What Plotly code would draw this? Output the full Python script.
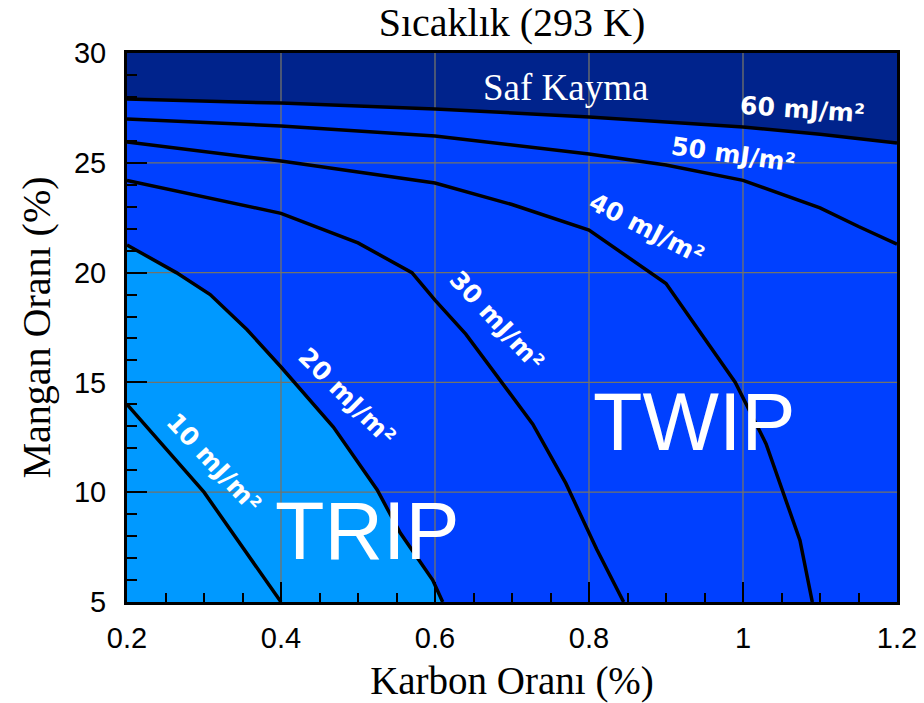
import plotly.graph_objects as go

# ---- data ----
x_range = [0.2, 1.2]
y_range = [5, 30]

x_tickvals = [0.2, 0.4, 0.6, 0.8, 1.0, 1.2]
x_ticktext = ["0.2", "0.4", "0.6", "0.8", "1", "1.2"]
y_tickvals = [5, 10, 15, 20, 25, 30]
y_ticktext = ["5", "10", "15", "20", "25", "30"]
x_grid = [0.4, 0.6, 0.8, 1.0]
y_grid = [10, 15, 20, 25]

c60_x = [0.2, 0.4, 0.6, 0.8, 1.0, 1.1, 1.2]
c60_y = [27.9, 27.72, 27.45, 27.09, 26.63, 26.3, 25.9]

c50_x = [0.2, 0.4, 0.6, 0.8, 0.9, 1.0, 1.1, 1.15, 1.2]
c50_y = [27.0, 26.68, 26.22, 25.4, 24.9, 24.2, 22.95, 22.1, 21.3]

c40_x = [0.2, 0.4, 0.6, 0.7, 0.8, 0.9, 0.99, 1.03, 1.074, 1.09]
c40_y = [25.95, 25.08, 24.08, 23.1, 21.94, 19.5, 15.0, 12.2, 7.8, 5.0]

c30_x = [0.2, 0.3, 0.4, 0.5, 0.57, 0.6, 0.64, 0.727, 0.77, 0.81, 0.845]
c30_y = [24.2, 23.45, 22.7, 21.35, 20.0, 18.75, 17.2, 13.1, 10.4, 7.4, 5.0]

c20_x = [0.2, 0.264, 0.308, 0.356, 0.4, 0.468, 0.525, 0.555, 0.597, 0.61]
c20_y = [21.26, 20.0, 19.0, 17.4, 15.7, 12.97, 10.1, 8.14, 6.0, 5.0]

c10_x = [0.2, 0.3, 0.4]
c10_y = [14.0, 10.0, 5.0]

contour_names = ["10 mJ/m²", "20 mJ/m²", "30 mJ/m²", "40 mJ/m²", "50 mJ/m²", "60 mJ/m²"]
label_x = [0.312, 0.486, 0.680, 0.875, 0.988, 1.077]
label_y = [11.33, 14.38, 17.8, 21.99, 25.4, 27.45]
label_angle = [47, 45, 47, 27, 8, 4]

region_names = ["TRIP", "TWIP"]
region_x = [0.512, 0.936]
region_y = [8.25, 13.2]

NAVY = "#00238C"
BLUE = "#0040FF"
LIGHT = "#0099FF"
GRID = "rgb(115,115,105)"

fig = go.Figure()

# blue region (below the 60 mJ/m² curve)
fig.add_trace(go.Scatter(
    x=c60_x + [x_range[1], x_range[0]],
    y=c60_y + [y_range[0], y_range[0]],
    fill="toself", fillcolor=BLUE, mode="lines", line=dict(width=0),
    hoverinfo="skip", showlegend=False))

# light-blue region (below the 20 mJ/m² curve)
fig.add_trace(go.Scatter(
    x=c20_x + [x_range[0]],
    y=c20_y + [y_range[0]],
    fill="toself", fillcolor=LIGHT, mode="lines", line=dict(width=0),
    hoverinfo="skip", showlegend=False))

# grid lines drawn above the fills
gx, gy = [], []
for v in x_grid:
    gx += [v, v, None]
    gy += [y_range[0], y_range[1], None]
for v in y_grid:
    gx += [x_range[0], x_range[1], None]
    gy += [v, v, None]
fig.add_trace(go.Scatter(x=gx, y=gy, mode="lines",
                         line=dict(color=GRID, width=1.3),
                         hoverinfo="skip", showlegend=False))

# contour lines
for cx, cy, nm in [(c10_x, c10_y, contour_names[0]), (c20_x, c20_y, contour_names[1]),
                   (c30_x, c30_y, contour_names[2]), (c40_x, c40_y, contour_names[3]),
                   (c50_x, c50_y, contour_names[4]), (c60_x, c60_y, contour_names[5])]:
    fig.add_trace(go.Scatter(x=cx, y=cy, mode="lines", name=nm,
                             line=dict(color="black", width=3.5),
                             showlegend=False))

annotations = []
for t, ax_, ay_, ang in zip(contour_names, label_x, label_y, label_angle):
    annotations.append(dict(x=ax_, y=ay_, xref="x", yref="y", text=t, showarrow=False,
                            textangle=ang,
                            font=dict(family="DejaVu Sans", size=25, color="white", weight="bold")))
for t, ax_, ay_ in zip(region_names, region_x, region_y):
    annotations.append(dict(x=ax_, y=ay_, xref="x", yref="y", text=t, showarrow=False,
                            font=dict(family="Liberation Sans", size=81, color="white")))
annotations.append(dict(x=0.769, y=28.45, xref="x", yref="y", text="Saf Kayma", showarrow=False,
                        font=dict(family="Liberation Serif", size=37, color="white")))

fig.update_layout(
    width=924, height=703,
    margin=dict(l=127, r=27, t=53, b=101, autoexpand=False),
    paper_bgcolor="white", plot_bgcolor=NAVY,
    title=dict(text="Sıcaklık (293 K)", x=0.5, xref="paper", xanchor="center",
               y=1 - 22 / 703, yref="container", yanchor="middle",
               font=dict(family="Liberation Serif", size=40, color="black"),
               automargin=False),
    annotations=annotations,
    showlegend=False,
)

fig.update_xaxes(
    range=x_range, tickmode="array", tickvals=x_tickvals, ticktext=x_ticktext,
    ticks="inside", ticklen=20, tickwidth=2, tickcolor="black",
    minor=dict(ticks="inside", dtick=0.05, tick0=0.2, ticklen=9, tickwidth=1.5,
               tickcolor="black", showgrid=False),
    showgrid=False, zeroline=False, automargin=False,
    showline=True, linecolor="black", linewidth=3, mirror=True,
    tickfont=dict(family="Liberation Sans", size=29, color="black"),
    ticklabelstandoff=8,
    title=dict(text="Karbon Oranı (%)", standoff=15,
               font=dict(family="Liberation Serif", size=39, color="black")),
)
fig.update_yaxes(
    range=y_range, tickmode="array", tickvals=y_tickvals, ticktext=y_ticktext,
    ticks="inside", ticklen=20, tickwidth=2, tickcolor="black",
    minor=dict(ticks="inside", dtick=1, tick0=5, ticklen=10, tickwidth=1.5,
               tickcolor="black", showgrid=False),
    showgrid=False, zeroline=False, automargin=False,
    showline=True, linecolor="black", linewidth=3, mirror=True,
    tickfont=dict(family="Liberation Sans", size=29, color="black"),
    ticklabelstandoff=12,
    title=dict(text="Mangan Oranı (%)", standoff=11,
               font=dict(family="Liberation Serif", size=40, color="black")),
)

fig.write_html(
    "out.html",
    config={"displayModeBar": False},
    post_script="document.body.style.margin='0';document.body.style.overflow='hidden';",
)
